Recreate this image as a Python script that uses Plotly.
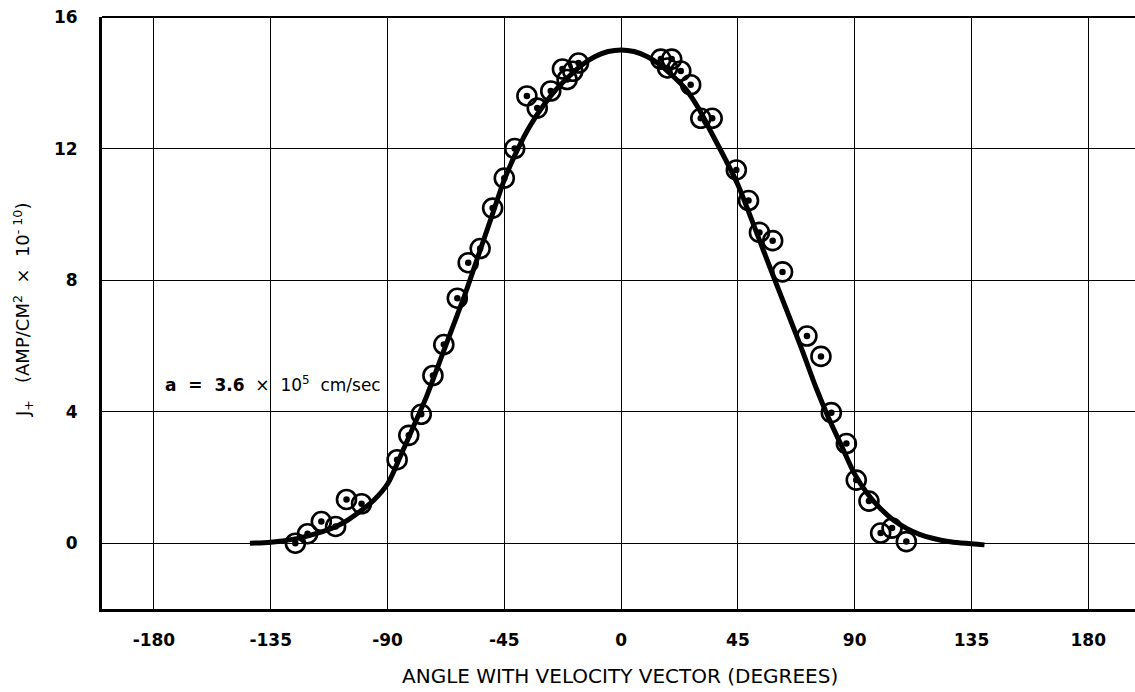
import plotly.graph_objects as go

# measured points (angle in degrees, J+ in 1e-10 A/cm^2)
point_angle = [-125.5, -120.8, -115.5, -110.0, -105.8, -100.0, -86.3, -81.8, -77.0, -72.5,
               -68.3, -63.1, -58.9, -54.3, -49.5, -45.0, -41.0, -36.3, -32.3, -27.1,
               -22.6, -20.8, -18.6, -16.4,
               15.3, 17.9, 19.5, 23.0, 26.8, 30.7, 35.1, 44.4, 49.1, 53.3, 58.4, 62.2,
               71.6, 77.0, 81.0, 86.8, 90.6, 95.5, 100.0, 104.4, 109.9]
point_j = [0.0, 0.29, 0.66, 0.51, 1.33, 1.2, 2.54, 3.28, 3.92, 5.1,
           6.04, 7.45, 8.53, 8.96, 10.19, 11.1, 12.0, 13.6, 13.23, 13.75,
           14.42, 14.1, 14.35, 14.6,
           14.72, 14.45, 14.72, 14.36, 13.94, 12.92, 12.92, 11.35, 10.42, 9.45, 9.2, 8.25,
           6.3, 5.68, 3.97, 3.03, 1.92, 1.28, 0.31, 0.46, 0.05]

# fitted curve
curve_angle = [-143, -135, -125, -115, -110, -105, -100, -95, -90, -85, -80, -75, -70, -65,
               -60, -55, -50, -45, -40, -35, -30, -25, -20, -15, -10, -5, 0,
               5, 10, 15, 20, 25, 30, 35, 40, 45, 50, 55, 60, 65, 70, 75, 80, 85, 90,
               95, 100, 105, 110, 115, 120, 126, 140]
curve_j = [0.0, 0.03, 0.14, 0.35, 0.5, 0.72, 1.0, 1.33, 1.8, 2.65, 3.55, 4.45, 5.5, 6.55,
           7.6, 8.75, 9.9, 11.05, 11.95, 12.7, 13.3, 13.8, 14.2, 14.55, 14.8, 14.95, 15.0,
           14.95, 14.8, 14.55, 14.2, 13.8, 13.2, 12.45, 11.7, 10.9, 9.9, 8.87, 7.85, 6.84,
           5.82, 4.75, 3.8, 2.95, 2.1, 1.5, 1.05, 0.7, 0.45, 0.27, 0.15, 0.05, -0.05]

x_ticks = [-180, -135, -90, -45, 0, 45, 90, 135, 180]
x_tick_labels = ["-180", "-135", "-90", "-45", "0", "45", "90", "135", "180"]
y_ticks = [0, 4, 8, 12, 16]
y_tick_labels = ["0", "4", "8", "12", "16"]

fig = go.Figure()

fig.add_trace(go.Scatter(
    x=curve_angle, y=curve_j, mode="lines",
    line=dict(color="black", width=5, shape="spline", smoothing=0.8),
    hoverinfo="skip", showlegend=False))

fig.add_trace(go.Scatter(
    x=point_angle, y=point_j, mode="markers",
    marker=dict(symbol="circle", size=19, color="rgba(0,0,0,0)",
                line=dict(color="black", width=2.6)),
    showlegend=False))

fig.add_trace(go.Scatter(
    x=point_angle, y=point_j, mode="markers",
    marker=dict(symbol="circle", size=6.5, color="black", line=dict(width=0)),
    showlegend=False))

tick_font = dict(family="DejaVu Sans", size=17, color="black")

fig.update_layout(
    width=1135, height=692,
    margin=dict(l=102, r=0, t=17, b=83),
    paper_bgcolor="white", plot_bgcolor="white",
    showlegend=False,
    xaxis=dict(range=[-200, 198], tickvals=x_ticks,
               ticktext=["<b>" + t + "</b>" for t in x_tick_labels],
               showgrid=True, gridcolor="black", gridwidth=1.3, zeroline=False,
               showline=True, linecolor="black", linewidth=3,
               ticks="", ticklabelstandoff=14, tickfont=tick_font),
    yaxis=dict(range=[-2, 16], tickvals=y_ticks,
               ticktext=["<b>" + t + "</b>" for t in y_tick_labels],
               showgrid=True, gridcolor="black", gridwidth=1.3, zeroline=False,
               showline=True, linecolor="black", linewidth=3,
               ticks="", ticklabelstandoff=18, tickfont=tick_font),
    shapes=[dict(type="line", xref="paper", yref="paper", x0=0, x1=1, y0=1, y1=1,
                 line=dict(color="black", width=2))],
    annotations=[
        dict(text="ANGLE WITH VELOCITY VECTOR (DEGREES)", xref="paper", yref="paper",
             x=0.5015, y=-0.1126, xanchor="center", yanchor="middle", showarrow=False,
             font=dict(family="DejaVu Sans", size=20, color="black")),
        dict(text="J<sub>+</sub>   (AMP/CM<sup>2</sup>  ×  10<sup>- 10</sup>)", xref="paper", yref="paper",
             x=-0.0765, y=0.505, xanchor="center", yanchor="middle", textangle=-90,
             showarrow=False, font=dict(family="DejaVu Sans", size=18, color="black")),
        dict(text="<b>a  =  3.6</b>  ×  10<sup>5</sup>  cm/sec", xref="x", yref="y",
             x=-176.5, y=4.85, xanchor="left", yanchor="middle", showarrow=False,
             font=dict(family="DejaVu Sans", size=17, color="black")),
    ],
)

fig.write_html("out.html")
